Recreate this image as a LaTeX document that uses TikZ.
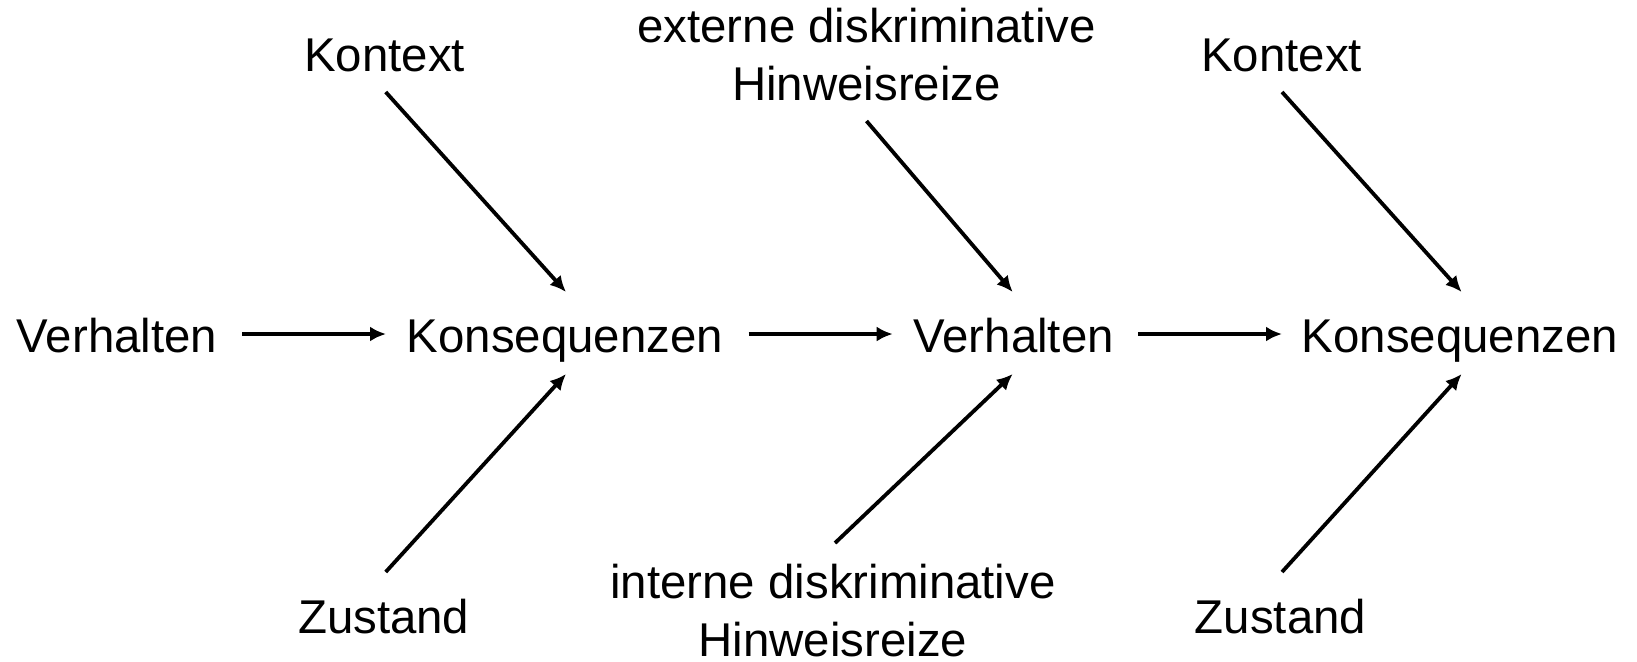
\documentclass[tikz,border=0pt]{standalone}
\usepackage{fontspec}
\setmainfont{Liberation Sans}
\usetikzlibrary{arrows.meta,calc}
\begin{document}
\begin{tikzpicture}[x=0.5pt,y=-0.5pt,
  lbl/.style={inner sep=0pt,anchor=base,align=center,
    font=\fontsize{23.7}{29}\selectfont},
  arr/.style={line width=1.9pt,-{Latex[length=8pt,width=7.5pt]}}]
\useasboundingbox (0,0) rectangle (1637,661);

% main chain
\node[lbl] (v1) at (117,352) {Verhalten};
\node[lbl] (k1) at (565,352) {Konsequenzen};
\node[lbl] (v2) at (1013.7,352) {Verhalten};
\node[lbl] (k2) at (1460,352) {Konsequenzen};

% influences from above
\node[lbl] (ctx1) at (384.7,71) {Kontext};
\node[lbl] (ext) at (866.5,100) {externe diskriminative\\Hinweisreize};
\node[lbl] (ctx2) at (1281.5,71) {Kontext};

% influences from below
\node[lbl] (st1) at (383.7,633) {Zustand};
\node[lbl] (int) at (833,656) {interne diskriminative\\Hinweisreize};
\node[lbl] (st2) at (1280.5,633) {Zustand};

% horizontal arrows
\draw[arr] ($(v1.base)+(125,-18)$) -- ($(k1.base)+(-179,-18)$);
\draw[arr] ($(k1.base)+(183.5,-18)$) -- ($(v2.base)+(-121,-18)$);
\draw[arr] ($(v2.base)+(124.3,-18)$) -- ($(k2.base)+(-178,-18)$);

% diagonal arrows
\draw[arr] ($(ctx1.base)+(1,21)$) -- ($(k1.base)+(1,-60)$);
\draw[arr] ($(st1.base)+(2,-61)$) -- ($(k1.base)+(1,22)$);
\draw[arr] ($(ext.base)+(0,21)$) -- ($(v2.base)+(-1,-60)$);
\draw[arr] ($(int.base)+(2,-113)$) -- ($(v2.base)+(-1,22)$);
\draw[arr] ($(ctx2.base)+(0.5,21)$) -- ($(k2.base)+(1.6,-60)$);
\draw[arr] ($(st2.base)+(1.5,-61)$) -- ($(k2.base)+(1.6,22)$);
\end{tikzpicture}
\end{document}
